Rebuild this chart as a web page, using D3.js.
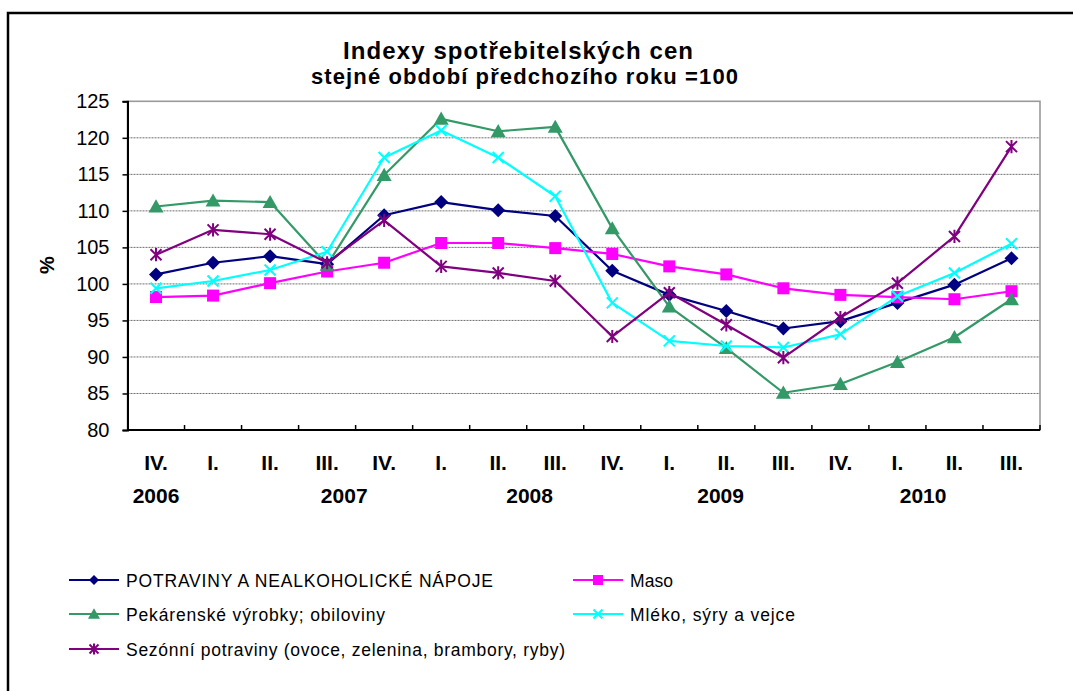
<!DOCTYPE html>
<html><head><meta charset="utf-8">
<script src="https://cdn.jsdelivr.net/npm/d3@7"></script>
<style>
body{margin:0;background:#fff}
svg{display:block}
text{font-family:"Liberation Sans",Arial,sans-serif;fill:#000}
</style>
</head><body>
<svg id="chart" width="1073" height="691"></svg>
<script>
// ---- data ----
const quarters = ["IV.","I.","II.","III.","IV.","I.","II.","III.","IV.","I.","II.","III.","IV.","I.","II.","III."];
const years = ["2006","2007","2008","2009","2010"];
const yearAnchor = [0, 3.3, 6.55, 9.9, 13.45];
const potraviny  = [101.3,102.9,103.8,102.7,109.4,111.2,110.1,109.3,101.8,98.5,96.3,93.9,94.9,97.4,99.9,103.5];
const maso       = [98.2,98.4,100.1,101.7,102.9,105.6,105.6,104.9,104.1,102.4,101.3,99.4,98.5,98.2,97.9,99.0];
const pekarenske = [110.6,111.4,111.2,102.6,114.9,122.6,120.9,121.5,107.6,96.9,91.2,85.1,86.3,89.3,92.7,97.9];
const mleko      = [99.4,100.4,101.9,104.4,117.3,121.0,117.3,112.0,97.4,92.2,91.5,91.3,93.1,98.3,101.5,105.5];
const sezonni    = [104.0,107.4,106.8,102.9,108.7,102.4,101.5,100.4,92.8,98.8,94.4,89.9,95.4,100.1,106.5,118.8];
const yTicks = [80,85,90,95,100,105,110,115,120,125];
const seriesNames = [
  "POTRAVINY A NEALKOHOLICKÉ NÁPOJE",
  "Maso",
  "Pekárenské výrobky; obiloviny",
  "Mléko, sýry a vejce",
  "Sezónní potraviny (ovoce, zelenina, brambory, ryby)"
];
const titleText = "Indexy spotřebitelských cen";
const subtitleText = "stejné období předchozího roku =100";
const yAxisLabel = "%";

// ---- styles ----
const series = [
  {name: seriesNames[0], values: potraviny,  color: "#000080", marker: "diamond"},
  {name: seriesNames[1], values: maso,       color: "#FF00FF", marker: "square"},
  {name: seriesNames[2], values: pekarenske, color: "#339966", marker: "triangle"},
  {name: seriesNames[3], values: mleko,      color: "#00FFFF", marker: "x"},
  {name: seriesNames[4], values: sezonni,    color: "#800080", marker: "star"}
];

const svg = d3.select("#chart");
const L = 127.5, R = 1040, T = 101.3, B = 430;

// outer frame
svg.append("rect").attr("x",8).attr("y",13).attr("width",1090).attr("height",700)
  .attr("fill","none").attr("stroke","#000").attr("stroke-width",2.5);

const x = d3.scaleBand().domain(d3.range(quarters.length)).range([L, R]).padding(0);
const bw = x.bandwidth();
const cx = i => x(i) + bw/2;
const y = d3.scaleLinear().domain([80,125]).range([B, T]);

// gridlines
svg.append("g").selectAll("line").data(yTicks.filter(v => v>80 && v<125)).join("line")
  .attr("x1",L).attr("x2",R).attr("y1",d=>y(d)).attr("y2",d=>y(d))
  .attr("stroke","#6e6e6e").attr("stroke-width",1).attr("stroke-dasharray","2,1");

// plot area border (gray)
svg.append("rect").attr("x",L).attr("y",T).attr("width",R-L).attr("height",B-T)
  .attr("fill","none").attr("stroke","#999").attr("stroke-width",1.6);

// y axis
const yAxis = d3.axisLeft(y).tickValues(yTicks).tickSize(5).tickPadding(13).tickFormat(d3.format("d"));
const gy = svg.append("g").attr("transform",`translate(${L},0)`).call(yAxis);
gy.select(".domain").attr("stroke","#000").attr("stroke-width",2);
gy.selectAll(".tick line").attr("stroke","#000").attr("stroke-width",1.5);
gy.selectAll(".tick text").attr("font-size",20).attr("font-family","Liberation Sans, Arial, sans-serif").attr("fill","#000");

// x axis line + inward ticks between categories
svg.append("line").attr("x1",L).attr("x2",R).attr("y1",B).attr("y2",B).attr("stroke","#000").attr("stroke-width",2);
svg.append("g").selectAll("line").data(d3.range(1, quarters.length)).join("line")
  .attr("x1",d=>x(d)).attr("x2",d=>x(d)).attr("y1",B).attr("y2",B-5)
  .attr("stroke","#000").attr("stroke-width",1.5);
svg.append("line").attr("x1",R).attr("x2",R).attr("y1",B).attr("y2",B-5).attr("stroke","#000").attr("stroke-width",1.5);

// x labels
svg.append("g").selectAll("text").data(quarters).join("text")
  .attr("x",(d,i)=>cx(i)).attr("y",470).attr("text-anchor","middle")
  .attr("font-size",21).attr("font-weight","bold").text(d=>d);
svg.append("g").selectAll("text").data(years).join("text")
  .attr("x",(d,i)=>cx(0) + yearAnchor[i]*bw).attr("y",502.5).attr("text-anchor","middle")
  .attr("font-size",21).attr("font-weight","bold").text(d=>d);

// y axis label
svg.append("text").attr("transform","translate(54,265) rotate(-90)").attr("text-anchor","middle")
  .attr("font-size",20).attr("font-weight","bold").text(yAxisLabel);

// title
svg.append("text").attr("x",343).attr("y",58.5).attr("font-size",24).attr("font-weight","bold")
  .attr("textLength",350).attr("lengthAdjust","spacing").text(titleText);
svg.append("text").attr("x",311).attr("y",84).attr("font-size",22).attr("font-weight","bold")
  .attr("textLength",427).attr("lengthAdjust","spacing").text(subtitleText);

// marker drawing
function drawMarker(g, type, px, py, s, color) {
  if (type === "diamond") {
    g.append("path").attr("d",`M${px},${py-s}L${px+s},${py}L${px},${py+s}L${px-s},${py}Z`).attr("fill",color);
  } else if (type === "square") {
    g.append("rect").attr("x",px-s).attr("y",py-s).attr("width",2*s).attr("height",2*s).attr("fill",color);
  } else if (type === "triangle") {
    const h = s*1.75;
    g.append("path").attr("d",`M${px},${py-h*0.55}L${px+s},${py+h*0.45}L${px-s},${py+h*0.45}Z`).attr("fill",color);
  } else if (type === "x") {
    g.append("path").attr("d",`M${px-s},${py-s}L${px+s},${py+s}M${px-s},${py+s}L${px+s},${py-s}`)
      .attr("stroke",color).attr("stroke-width",2).attr("fill","none");
  } else if (type === "star") {
    g.append("path").attr("d",`M${px-s},${py-s}L${px+s},${py+s}M${px-s},${py+s}L${px+s},${py-s}M${px},${py-s*1.2}L${px},${py+s*1.2}`)
      .attr("stroke",color).attr("stroke-width",2).attr("fill","none");
  }
}
const markerSize = {diamond:7, square:6, triangle:7.5, x:5.5, star:5.5};
const legendSize = {diamond:5, square:5, triangle:6, x:4.5, star:4.5};

const line = d3.line().x((d,i)=>cx(i)).y(d=>y(d));
series.forEach(s => {
  const g = svg.append("g");
  g.append("path").attr("d",line(s.values)).attr("fill","none").attr("stroke",s.color).attr("stroke-width",2.2)
    .attr("stroke-linejoin","round");
  s.values.forEach((v,i) => drawMarker(g, s.marker, cx(i), y(v), markerSize[s.marker], s.color));
});

// legend
const legendPos = [
  {lx:69, ly:580, tx:126, w:367},
  {lx:573, ly:580, tx:630, w:43},
  {lx:69, ly:614, tx:126, w:259},
  {lx:573, ly:614, tx:630, w:165},
  {lx:69, ly:649, tx:126, w:439}
];
series.forEach((s,i) => {
  const p = legendPos[i];
  const g = svg.append("g");
  g.append("line").attr("x1",p.lx).attr("x2",p.lx+50).attr("y1",p.ly).attr("y2",p.ly)
    .attr("stroke",s.color).attr("stroke-width",2.2);
  drawMarker(g, s.marker, p.lx+25, p.ly, legendSize[s.marker], s.color);
  g.append("text").attr("x",p.tx).attr("y",p.ly+6.5).attr("font-size",17.5)
    .attr("textLength",p.w).attr("lengthAdjust","spacing").text(s.name);
});
</script>
</body></html>
